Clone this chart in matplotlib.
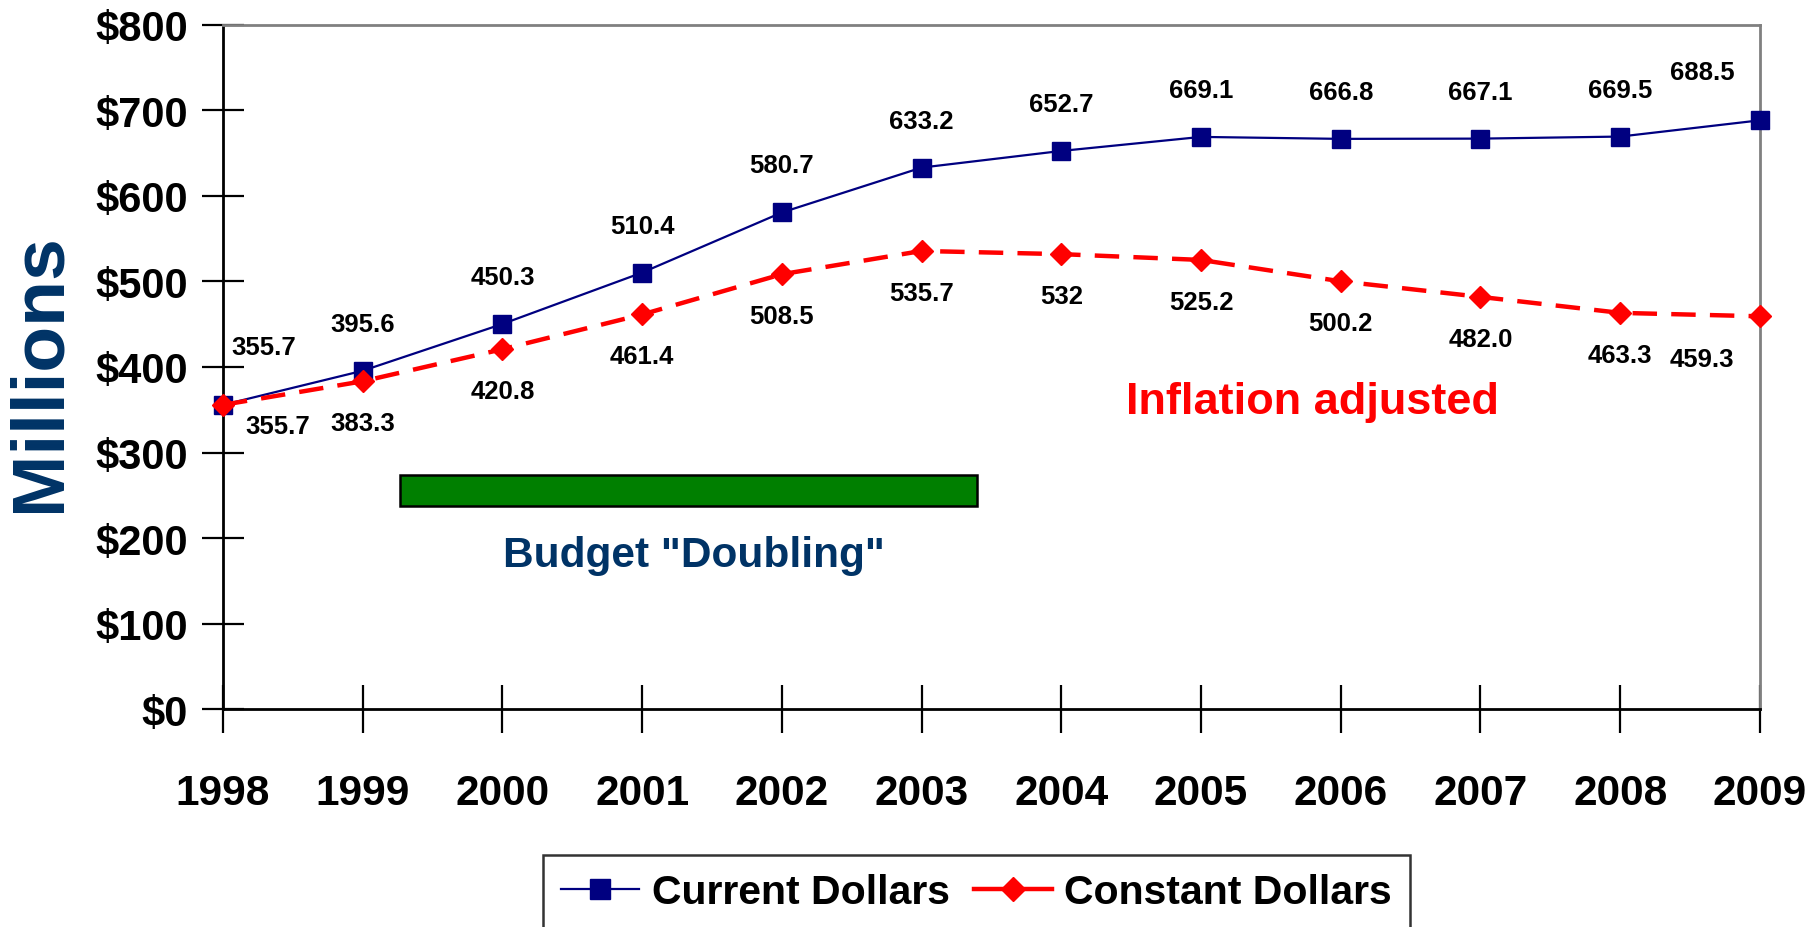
import matplotlib
matplotlib.use("Agg")
import matplotlib.pyplot as plt
from matplotlib.lines import Line2D

# ---- data ----
years = ["1998", "1999", "2000", "2001", "2002", "2003",
         "2004", "2005", "2006", "2007", "2008", "2009"]
current = [355.7, 395.6, 450.3, 510.4, 580.7, 633.2,
           652.7, 669.1, 666.8, 667.1, 669.5, 688.5]
constant = [355.7, 383.3, 420.8, 461.4, 508.5, 535.7,
            532, 525.2, 500.2, 482.0, 463.3, 459.3]
constant_labels = ["355.7", "383.3", "420.8", "461.4", "508.5", "535.7",
                   "532", "525.2", "500.2", "482.0", "463.3", "459.3"]
yticks = [0, 100, 200, 300, 400, 500, 600, 700, 800]

NAVY = "#000080"
RED = "#FF0000"
DARKBLUE = "#003366"
FONT = "Liberation Sans"

plt.rcParams["font.family"] = FONT
plt.rcParams["font.weight"] = "bold"

fig = plt.figure(figsize=(18.2, 9.28), dpi=100)
ax = fig.add_axes([0.1225, 0.2349, 0.967 - 0.1225, 0.972 - 0.2349])

x = list(range(len(years)))

ax.plot(x, current, color=NAVY, lw=1.6, marker="s", ms=13.5,
        mfc=NAVY, mec=NAVY, label="Current Dollars", zorder=4, clip_on=False)
ax.plot(x, constant, color=RED, lw=3.2, dashes=(5.5, 3.2), marker="D", ms=11,
        mfc=RED, mec=RED, label="Constant Dollars", zorder=5, clip_on=False)

# data labels
for i, v in enumerate(current):
    dx, dy = 0, 47
    if i == 0:
        dx, dy = 41, 58
    elif i == len(current) - 1:
        dx, dy = -58, 48
    ax.annotate(f"{v:.1f}", (i, v), xytext=(dx, dy), textcoords="offset pixels",
                ha="center", va="center", fontsize=18.5, fontweight="bold")
for i, v in enumerate(constant):
    dx, dy = 0, -42
    if i == 0:
        dx, dy = 55, -21
    elif i == len(constant) - 1:
        dx, dy = -58, -43
    ax.annotate(constant_labels[i], (i, v), xytext=(dx, dy), textcoords="offset pixels",
                ha="center", va="center", fontsize=18.5, fontweight="bold")

# budget doubling bar
ax.add_patch(plt.Rectangle((1.27, 237), 5.40 - 1.27, 37, facecolor="#007F00",
                           edgecolor="black", lw=1.8, zorder=3))
ax.text(3.37, 180, 'Budget "Doubling"', ha="center", va="center",
        fontsize=30.5, fontweight="bold", color=DARKBLUE)
ax.text(7.8, 360, "Inflation adjusted", ha="center", va="center",
        fontsize=32.5, fontweight="bold", color=RED)

ax.set_xlim(0, len(years) - 1)
ax.set_ylim(0, 800)
ax.set_xticks(x)
ax.set_xticklabels(years)
ax.set_yticks(yticks)
ax.set_yticklabels([f"${t}" for t in yticks])

for lab in ax.get_xticklabels():
    lab.set_fontsize(30.5)
    lab.set_fontweight("bold")
for lab in ax.get_yticklabels():
    lab.set_fontsize(30)
    lab.set_fontweight("bold")

ax.tick_params(axis="y", direction="inout", length=30, width=1.6, pad=10)
ax.tick_params(axis="x", direction="inout", length=34, width=1.6, pad=29)

for side in ["top", "right"]:
    ax.spines[side].set_color("#808080")
    ax.spines[side].set_linewidth(2)
for side in ["left", "bottom"]:
    ax.spines[side].set_color("black")
    ax.spines[side].set_linewidth(2)

fig.text(0.022, 0.598, "Millions", rotation=90, ha="center", va="center",
         fontsize=54, fontweight="bold", color=DARKBLUE)

handles = [
    Line2D([], [], color=NAVY, lw=1.6, marker="s", ms=14, mfc=NAVY, mec=NAVY),
    Line2D([], [], color=RED, lw=3.2, marker="D", ms=12, mfc=RED, mec=RED),
]
leg = fig.legend(handles, ["Current Dollars", "Constant Dollars"],
                 loc="upper left", bbox_to_anchor=(543 / 1820, 1 - 856 / 928),
                 ncol=2, frameon=True, fancybox=False, edgecolor="black",
                 fontsize=29.5, handlelength=1.9, handletextpad=0.3,
                 columnspacing=0.6, borderpad=0.45, borderaxespad=0)
leg.get_frame().set_linewidth(1.8)
for t in leg.get_texts():
    t.set_fontweight("bold")

fig.savefig("out.png", dpi=100)
